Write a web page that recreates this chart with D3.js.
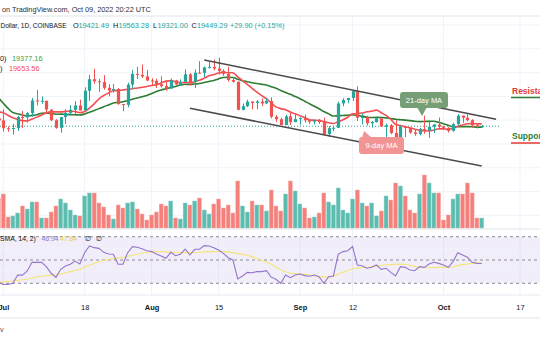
<!DOCTYPE html>
<html><head><meta charset="utf-8">
<script src="https://cdn.jsdelivr.net/npm/d3@7/dist/d3.min.js"></script>
<style>
body{margin:0;background:#fff;}
svg{display:block;font-family:"Liberation Sans",Arial,sans-serif;}
</style>
</head><body>
<svg id="c" width="540" height="340"></svg>
<script>
// ---------- DATA ----------
const firstDay = "2022-06-30"; // daily candles Jun 30 .. Oct 9, 2022
const open  = [20105,19942,19280,19240,19300,20230,20190,20550,21620,21590,21590,20850,19960,19320,20220,20580,20830,21190,20780,22430,23400,23230,23160,22680,22450,22580,21310,21250,22950,23850,23770,23640,23300,23270,22980,22820,22620,23310,22960,23180,23810,23160,23950,23940,24400,24440,24300,24100,23850,23340,23190,20830,21140,21520,21400,21530,21370,21570,20250,20040,19550,20280,19800,20050,20130,19950,19830,19990,19800,18790,19290,19320,21370,21650,21830,22400,20170,20230,19700,19800,20110,19420,19540,18880,18480,19400,19300,18920,18800,19220,19080,19410,19590,19420,19310,19060,19630,20340,20160,19960,19530,19421.49];
const high  = [20142,20876,19440,19660,20330,20730,20660,21830,22500,21950,21600,20860,20050,20240,20880,21200,21560,21680,22720,23750,24280,23430,23750,22990,22990,22650,21330,23110,24180,24440,24640,24180,23480,23450,23650,23220,23460,23350,23390,24240,23920,24220,24920,24460,24890,25050,25210,24240,24440,23600,23200,21370,21680,21530,21650,21800,21800,21880,20390,20160,20420,20570,20490,20200,20440,20050,20000,20060,20180,19460,19450,21520,21800,21840,22490,22800,20540,20330,19890,20180,20110,19680,19630,19950,19490,19490,19310,19180,19310,20340,19790,19640,20180,19480,19400,19720,20470,20360,20450,20050,19620,19563.28];
const low   = [18626,19000,18980,18760,19050,19310,19770,20250,21200,21330,20640,19880,19240,18910,19640,20400,20490,20760,20770,21580,23020,22340,22520,21960,22270,21260,20710,21040,22590,23420,23520,23230,22860,22670,22700,22440,22590,22930,22860,23160,22880,22670,23880,23590,24300,24150,23790,23690,23200,23110,20790,20790,21060,20880,20890,21150,21320,20110,19820,19550,19550,19550,19790,19580,19760,19650,19600,19640,18680,18540,19020,19300,21130,21380,21570,19880,19620,19510,19330,19760,19380,18230,18770,18130,18360,18530,18820,18640,18680,18820,18470,18860,19160,19160,18920,19000,19510,19740,19860,19330,19260,19321.00];
const close = [19942,19280,19240,19300,20230,20190,20550,21620,21590,21592,20850,19960,19320,20220,20580,20830,21190,20780,22430,23400,23230,23160,22680,22450,22580,21310,21250,22950,23850,23770,23640,23300,23270,22980,22820,22620,23310,22960,23180,23810,23160,23950,23940,24400,24440,24300,24100,23850,23340,23190,20830,21140,21520,21400,21530,21370,21570,20250,20040,19550,20280,19800,20050,20130,19950,19830,19990,19800,18790,19290,19320,21370,21650,21830,22400,20170,20230,19700,19800,20110,19420,19540,18880,18480,19400,19300,18920,18800,19220,19080,19410,19590,19420,19310,19060,19630,20340,20160,19960,19530,19420,19449.29];
// closes Jun 10 .. Jun 29 (needed for the moving averages at the left edge)
const priorCloses = [29080,28400,26580,22470,22130,22580,20390,20450,19010,20570,20560,20720,19970,21100,21230,21500,21030,20730,20280,20100];
// volume (thousand BTC)
const volume = [30,34,11,12,15,22,19,26,26,10,10,16,22,29,25,18,13,12,32,35,35,25,21,13,9,23,20,25,26,19,14,8,13,16,24,22,27,10,9,25,23,27,30,18,14,24,29,20,23,15,47,22,16,27,23,23,17,38,22,17,34,47,37,24,20,10,11,15,35,26,23,40,18,15,29,38,25,22,25,12,17,32,28,45,42,32,18,15,34,53,45,35,35,8,13,29,34,34,45,35,10,10];
// RSI(14) and its 14-period SMA
const rsi = [30.9,29.1,29.0,30.0,37.1,37.0,40.6,48.0,48.0,48.0,44.3,38.6,35.1,42.0,44.8,46.3,49.1,46.6,56.3,62.0,60.6,60.0,56.6,55.2,54.9,46.3,46.3,56.3,61.5,60.9,59.7,58.0,57.2,55.2,53.4,51.4,56.6,53.7,54.9,59.4,54.3,59.2,59.2,62.3,62.0,60.6,58.6,55.7,52.0,50.0,33.7,36.3,39.4,39.1,40.0,40.0,40.8,35.3,33.4,30.0,37.1,34.8,37.1,38.0,36.6,36.0,37.1,35.7,30.0,35.7,36.3,54.9,57.2,58.0,61.5,45.7,45.1,42.9,43.7,45.7,42.0,42.9,39.4,36.3,44.3,43.7,41.4,40.8,44.3,43.7,46.6,48.0,47.1,45.7,43.7,48.6,56.3,54.3,52.3,48.0,47.1,46.94];
const rsiMa = [31.0,31.0,31.5,32.0,32.5,33.0,33.5,34.5,35.5,36.0,36.5,37.0,37.3,38.0,39.0,40.0,41.0,42.0,44.0,45.5,47.0,48.5,49.5,50.5,51.2,51.8,52.3,53.0,54.0,55.0,55.8,56.5,57.0,57.2,57.2,57.0,56.8,56.5,56.3,56.3,56.3,56.5,56.7,57.0,57.2,57.3,57.3,57.2,57.0,56.3,55.5,54.8,53.8,52.9,51.3,49.6,48.0,46.3,43.8,41.4,40.0,38.6,38.3,38.0,37.7,37.0,36.3,35.7,35.5,35.3,35.8,37.7,39.5,41.0,42.5,43.0,43.5,43.8,44.3,44.8,45.2,45.7,46.0,46.3,46.6,46.3,45.5,44.5,43.6,43.4,43.5,43.6,43.7,43.7,43.7,44.0,45.2,46.0,46.6,47.1,47.5,47.84];
const dateTicks = ["2022-07-01","2022-07-18","2022-08-01","2022-08-15","2022-09-01","2022-09-12","2022-10-01","2022-10-17"];
const dateTickLabels = ["Jul","18","Aug","15","Sep","12","Oct","17"];
const priceTicks = [12000,14000,16000,18000,20000,22000,24000,26000,28000];
const rsiGrid = [20,40,60];
const rsiBands = [70,50,30];
// trend channel drawn on the chart: [date, price] end points
const channelUpper = [["2022-08-12",25017],["2022-10-12",20034]];
const channelLower = [["2022-08-09",20958],["2022-10-09",16110]];

// ---------- SETUP ----------
const svg = d3.select("#c");
const W = 540;
const days = d3.utcDay.range(new Date(firstDay), d3.utcDay.offset(new Date(firstDay), close.length));
const bars = days.map((d,i)=>({d, o:open[i], h:high[i], l:low[i], c:close[i], v:volume[i], up:close[i]>=open[i]}));

const x = d3.scaleUtc().domain([new Date("2022-07-01"), new Date("2022-10-17")]).range([3.3, 520]);
const y = d3.scaleLinear().domain([12000, 28000]).range([214.9, 24.5]);
const yv = d3.scaleLinear().domain([0, 100]).range([228, 128]);
const yr = d3.scaleLinear().domain([30, 70]).range([283.3, 236.7]);

const UP = "#26a69a", DN = "#ef5350";
const gridC = "#f0f3fa";

// grid (price)
const gPrice = svg.append("g")
  .call(d3.axisRight(y).tickValues(priceTicks).tickSize(W).tickFormat(""));
gPrice.select(".domain").remove();
gPrice.selectAll("line").attr("stroke", gridC);
// vertical grid
const tickDates = dateTicks.map(s=>new Date(s));
svg.append("g").selectAll("line").data(tickDates).join("line")
  .attr("x1",d=>x(d)).attr("x2",d=>x(d)).attr("y1",16).attr("y2",295)
  .attr("stroke",gridC);

// top separator & pane borders
[[16,"#e0e3eb"],[229,"#e0e3eb"],[295,"#e9ebf0"],[318,"#e0e3eb"]].forEach(([yy,c])=>{
  svg.append("line").attr("x1",0).attr("x2",W).attr("y1",yy).attr("y2",yy).attr("stroke",c);
});

// RSI pane
svg.append("rect").attr("x",0).attr("width",W).attr("y",yr(70)).attr("height",yr(30)-yr(70))
  .attr("fill","rgba(126,87,194,0.1)");
svg.append("g").selectAll("line").data(rsiGrid).join("line")
  .attr("x1",0).attr("x2",W).attr("y1",d=>yr(d)).attr("y2",d=>yr(d)).attr("stroke",gridC);
svg.append("g").selectAll("line").data(rsiBands).join("line")
  .attr("x1",0).attr("x2",W).attr("y1",d=>yr(d)).attr("y2",d=>yr(d))
  .attr("stroke","#8a8d96").attr("stroke-dasharray","3,3");
const lineR = d3.line().x((d,i)=>x(days[i])).y(d=>yr(d));
svg.append("path").attr("d",lineR(rsiMa)).attr("fill","none").attr("stroke","#f5e47a").attr("stroke-width",1.1);
svg.append("path").attr("d",lineR(rsi)).attr("fill","none").attr("stroke","#9575cd").attr("stroke-width",1.1);

// volume
const bw = 3.9;
svg.append("g").selectAll("rect").data(bars).join("rect")
  .attr("x",d=>x(d.d)-bw/2).attr("width",bw)
  .attr("y",d=>yv(d.v)).attr("height",d=>yv(0)-yv(d.v))
  .attr("fill",d=>d.up? "#5cbcb0":"#f4807c")
  .attr("stroke",d=>d.up? "#8fd3ca":"#f9aeab").attr("stroke-width",0.5);

// current price line
const last = close[close.length-1];
svg.append("line").attr("x1",0).attr("x2",500).attr("y1",y(last)).attr("y2",y(last))
  .attr("stroke",UP).attr("stroke-dasharray","1,2").attr("stroke-width",1);

// moving averages
const allC = priorCloses.concat(close);
function sma(n){ return close.map((c,i)=>{ const j=i+priorCloses.length; return d3.mean(allC.slice(j-n+1,j+1)); }); }
const ma9 = sma(9), ma21 = sma(21);
const lineP = d3.line().x((d,i)=>x(days[i])).y(d=>y(d)).curve(d3.curveMonotoneX);
svg.append("path").attr("d",lineP(ma21)).attr("fill","none").attr("stroke","#2e7d32").attr("stroke-width",1.6);
svg.append("path").attr("d",lineP(ma9)).attr("fill","none").attr("stroke","#f44e55").attr("stroke-width",1.6);

// candles
const cw = 3.2;
const gc = svg.append("g");
gc.selectAll("line").data(bars).join("line")
  .attr("x1",d=>Math.round(x(d.d))+0.5).attr("x2",d=>Math.round(x(d.d))+0.5)
  .attr("y1",d=>y(d.h)).attr("y2",d=>y(d.l))
  .attr("stroke",d=>d.up?UP:DN).attr("stroke-width",1);
gc.selectAll("rect").data(bars).join("rect")
  .attr("x",d=>Math.round(x(d.d))+0.5-cw/2).attr("width",cw)
  .attr("y",d=>y(Math.max(d.o,d.c))).attr("height",d=>Math.max(1,Math.abs(y(d.o)-y(d.c))))
  .attr("fill",d=>d.up?UP:DN);

// channel lines
[channelUpper, channelLower].forEach(([a,b])=>{
  svg.append("line").attr("x1",x(new Date(a[0]))).attr("y1",y(a[1])).attr("x2",x(new Date(b[0]))).attr("y2",y(b[1]))
    .attr("stroke","#4a4a4a").attr("stroke-width",1.5);
});

// callouts
function callout(cx, cy, w, h, fill, label, ptr){
  const g = svg.append("g");
  g.append("path").attr("d", d3.line()(ptr)+"Z").attr("fill",fill);
  g.append("rect").attr("x",cx).attr("y",cy).attr("width",w).attr("height",h).attr("rx",3).attr("fill",fill);
  g.append("text").attr("x",cx+w/2).attr("y",cy+h/2+2.7).attr("text-anchor","middle")
    .attr("fill","#fff").attr("font-size",7.5).text(label);
}
callout(400,92,48,16,"#779f77","21-day MA",[[417,107],[427,107],[422,116]]);
callout(359,137,45,17,"#f39494","9-day MA",[[362,138],[372,138],[364,131]]);

// right labels
svg.append("text").attr("x",512).attr("y",94).attr("fill","#e53935").attr("font-size",8.5).attr("font-weight","bold").text("Resistance");
svg.append("line").attr("x1",511).attr("x2",540).attr("y1",97.5).attr("y2",97.5).attr("stroke","#2e7d32").attr("stroke-width",1.5);
svg.append("text").attr("x",512).attr("y",139).attr("fill","#2e7d32").attr("font-size",8.5).attr("font-weight","bold").text("Support");
svg.append("line").attr("x1",511).attr("x2",540).attr("y1",143).attr("y2",143).attr("stroke","#e53935").attr("stroke-width",1.5);

// time axis
const ax = svg.append("g").attr("transform","translate(0,295)")
  .call(d3.axisBottom(x).tickValues(tickDates).tickSize(0).tickPadding(10)
  .tickFormat((d,i)=>dateTickLabels[i]));
ax.select(".domain").remove();
ax.selectAll("text").attr("font-size",7.5).attr("fill","#131722")
  .attr("font-weight",(d,i)=>i%2===0?"bold":"normal").attr("font-family","Liberation Sans, Arial, sans-serif");

// header texts
const tc = "#26a69a", dark = "#131722", fs = 7.3;
svg.append("text").attr("x",2).attr("y",11.5).attr("font-size",fs).attr("fill","#2a2e39").text("on TradingView.com, Oct 09, 2022 20:22 UTC");
svg.append("text").attr("x",0.5).attr("y",27.5).attr("font-size",fs).attr("fill",dark)
  .attr("textLength",66).attr("lengthAdjust","spacingAndGlyphs").text("Dollar, 1D, COINBASE");
const hdr = [[73,"O",dark],[78.5,"19421.49",tc],[113,"H",dark],[118.5,"19563.28",tc],[153,"L",dark],[157.5,"19321.00",tc],[191.5,"C",dark],[197,"19449.29",tc],[230,"+29.90 (+0.15%)",tc]];
hdr.forEach(([xx,t,c])=>svg.append("text").attr("x",xx).attr("y",27.5).attr("font-size",fs).attr("fill",c).text(t));
svg.append("text").attr("x",0).attr("y",60.5).attr("font-size",fs).attr("fill",dark).text("0)");
svg.append("text").attr("x",12).attr("y",60.5).attr("font-size",fs).attr("fill","#43a047").text("19377.16");
svg.append("text").attr("x",0).attr("y",71).attr("font-size",fs).attr("fill",dark).text(")");
svg.append("text").attr("x",9).attr("y",71).attr("font-size",fs).attr("fill","#f44e55").text("19653.56");
// RSI legend
const rf = 6.8;
svg.append("text").attr("x",0).attr("y",240.5).attr("font-size",rf).attr("fill",dark).text("SMA, 14, 2)");
svg.append("text").attr("x",41.5).attr("y",240.5).attr("font-size",rf).attr("fill","#9575cd").text("46.94");
svg.append("text").attr("x",60).attr("y",240.5).attr("font-size",rf).attr("fill","#e3cf45").text("47.84");
svg.append("text").attr("x",85).attr("y",240.5).attr("font-size",rf).attr("fill",dark).text("∅");
svg.append("text").attr("x",95.5).attr("y",240.5).attr("font-size",rf).attr("fill",dark).text("∅");
svg.append("text").attr("x",0).attr("y",332).attr("font-size",fs).attr("fill","#50535e").text("v");
</script>
</body></html>
